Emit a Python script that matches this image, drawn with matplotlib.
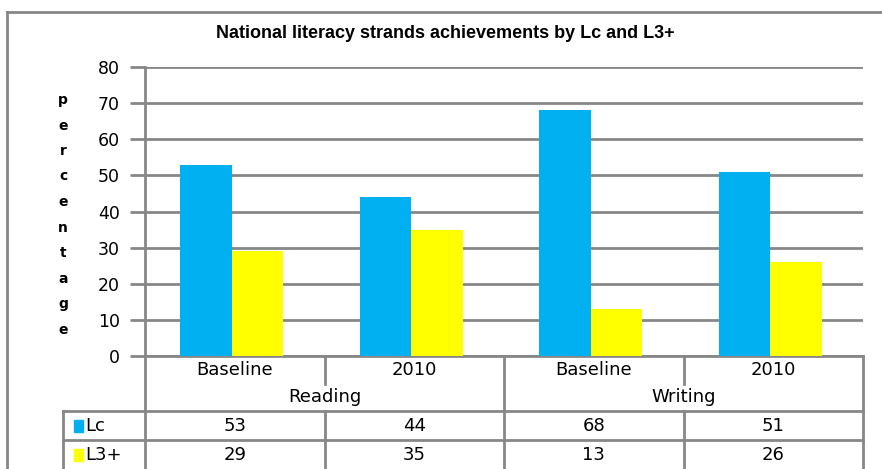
import matplotlib.pyplot as plt
import matplotlib.transforms as mtransforms
from matplotlib.patches import Rectangle
import numpy as np

# data
periods = ["Baseline", "2010", "Baseline", "2010"]
strands = ["Reading", "Writing"]
series = ["Lc", "L3+"]
lc = [53, 44, 68, 51]
l3 = [29, 35, 13, 26]
colors = ["#00B0F0", "#FFFF00"]

W, H = 882, 469
gray = "#878787"

fig = plt.figure(figsize=(W / 100, H / 100), dpi=100)

# overlay in pixel coords (y down) for the frame and the data table
ov = fig.add_axes([0, 0, 1, 1])
ov.set_xlim(0, W)
ov.set_ylim(H, 0)
ov.axis("off")

ax = fig.add_axes([145 / W, 1 - 356 / H, (863 - 145) / W, (356 - 67) / H])
ax.set_facecolor("none")
x = np.arange(len(periods)) - 0.017
bw = 0.287
ax.bar(x - bw / 2, lc, bw, color=colors[0], zorder=3)
ax.bar(x + bw / 2, l3, bw, color=colors[1], zorder=3)
ax.set_xlim(-0.5, len(periods) - 0.5)
ax.set_ylim(0, 80)
ax.set_yticks(range(0, 81, 10))
ax.yaxis.grid(True, color=gray, lw=2)
ax.set_axisbelow(True)
for s in ["top", "right"]:
    ax.spines[s].set_visible(False)
for s in ["left", "bottom"]:
    ax.spines[s].set_color(gray)
    ax.spines[s].set_linewidth(2)
ax.set_xticks([])
ax.tick_params(axis="y", length=11, width=2, color=gray, labelsize=12.5, pad=7)
for lab in ax.get_yticklabels():
    lab.set_fontfamily("DejaVu Sans")

fig.text(445 / W, 1 - 33 / H, "National literacy strands achievements by Lc and L3+",
         ha="center", va="center", fontsize=13, fontweight="bold", family="Liberation Sans")

# vertical y label, one letter per line
for i, ch in enumerate("percentage"):
    fig.text(63 / W, 1 - (100 + i * 25.5) / H, ch, ha="center", va="center",
             fontsize=10, fontweight="bold", family="DejaVu Sans")

# outer frame
ov.plot([7, 7], [12, H], color=gray, lw=2, clip_on=False)
ov.plot([7, W], [12, 12], color=gray, lw=2, clip_on=False)

# table lines
lk = dict(color=gray, lw=2, clip_on=False)
for xp in [145, 504, 863]:
    ov.plot([xp, xp], [356, H], **lk)
for xp in [325, 684]:
    ov.plot([xp, xp], [356, 384], **lk)
    ov.plot([xp, xp], [411, H], **lk)
ov.plot([63, 63], [411, H], **lk)
ov.plot([63, 863], [411, 411], **lk)
ov.plot([63, 863], [440, 440], **lk)

# table text, x from the bar axis
tr = mtransforms.blended_transform_factory(ax.transData, ov.transData)
tk = dict(ha="center", va="center", fontsize=13, family="DejaVu Sans")
for i, p in enumerate(periods):
    ov.text(i, 370, p, transform=tr, **tk)
for j, s in enumerate(strands):
    ov.text(2 * j + 0.5, 397, s, transform=tr, **tk)
for i in range(len(periods)):
    ov.text(i, 426, str(lc[i]), transform=tr, **tk)
    ov.text(i, 455, str(l3[i]), transform=tr, **tk)

for k, (name, yc) in enumerate(zip(series, [426, 455])):
    ov.add_patch(Rectangle((74, yc - 6), 9, 12, color=colors[k], clip_on=False))
    ov.text(85, yc, name, ha="left", va="center", fontsize=13, family="DejaVu Sans")

fig.savefig("out.png", dpi=100)
